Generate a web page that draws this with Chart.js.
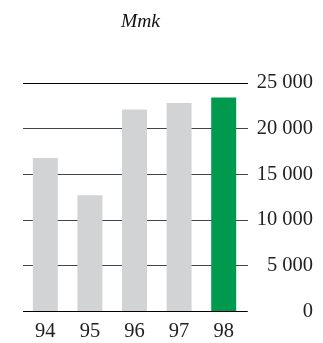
<!DOCTYPE html>
<html>
<head>
<meta charset="utf-8">
<script src="https://cdn.jsdelivr.net/npm/chart.js@4/dist/chart.umd.min.js"></script>
<style>
html,body{margin:0;padding:0;background:#fff;overflow:hidden;}
#wrap{position:relative;width:323px;height:343px;overflow:hidden;}
#ttl{position:absolute;left:121px;top:10px;font:italic 19.5px "Liberation Serif",serif;color:#111;}
</style>
</head>
<body>
<div id="wrap">
<div id="ttl">Mmk</div>
<canvas id="c" width="323" height="352"></canvas>
</div>
<script>
// Mmk per year, last year highlighted
const years=['94','95','96','97','98'];
const values=[16800,12700,22100,22800,23400];
const barColors=['#d1d3d4','#d1d3d4','#d1d3d4','#d1d3d4','#009a4e'];
const yTicks=[0,5000,10000,15000,20000,25000];

function fmt(v){ return String(v).replace(/\B(?=(\d{3})+(?!\d))/g,' '); }

const ctx=document.getElementById('c');
new Chart(ctx,{
  type:'bar',
  data:{ labels:years, datasets:[{ data:values, backgroundColor:barColors, barPercentage:0.56, categoryPercentage:1 }] },
  options:{
    responsive:false, animation:false,
    layout:{ padding:{ top:83, left:23, right:10, bottom:0 } },
    plugins:{ legend:{display:false}, tooltip:{enabled:false} },
    scales:{
      x:{
        grid:{ display:false, drawTicks:false },
        border:{ color:'#000', width:1 },
        ticks:{ padding:8, color:'#222', font:{ family:'"Liberation Serif", serif', size:20.5 } }
      },
      y:{
        position:'right', min:0, max:25000,
        afterBuildTicks:a=>{ a.ticks=yTicks.map(v=>({value:v})); },
        afterFit:a=>{ a.width=67; },
        grid:{ color:c=>c.tick && c.tick.value===25000 ? '#000' : '#444', lineWidth:1, tickLength:2, drawOnChartArea:true },
        border:{ display:false },
        ticks:{ padding:7, crossAlign:'far', color:'#222', font:{ family:'"Liberation Serif", serif', size:20.5 }, callback:v=>fmt(v) }
      }
    }
  }
});
</script>
</body>
</html>
